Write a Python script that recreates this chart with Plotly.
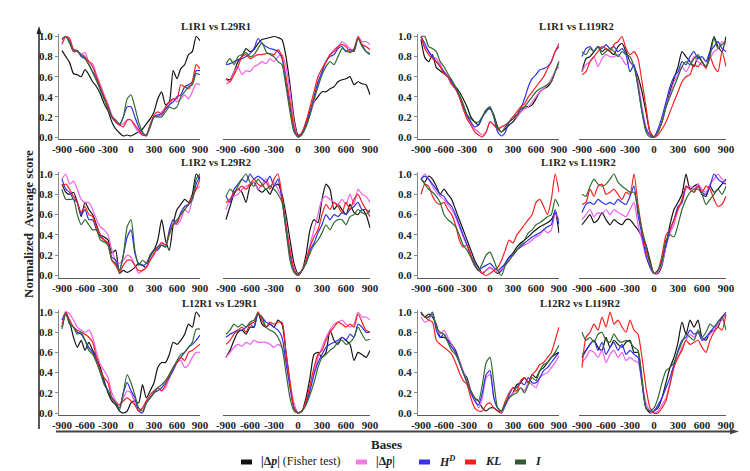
import plotly.graph_objects as go

W, H = 750, 471

bases = [-900, -850, -800, -750, -700, -650, -600, -550, -500,
         -450, -400, -350, -300, -250, -200, -150, -100, -50,
         0,
         50, 100, 150, 200, 250, 300, 350, 400, 450,
         500, 550, 600, 650, 700, 750, 800, 850, 900]

x_ticks = [-900, -600, -300, 0, 300, 600, 900]
y_ticks = [0.0, 0.2, 0.4, 0.6, 0.8, 1.0]

series_names = ["|Δp| (Fisher test)", "|Δp|", "H^D", "KL", "I"]
titles = ["L1R1 vs L29R1", "L1R1 vs L119R2",
          "L1R2 vs L29R2", "L1R2 vs L119R2",
          "L12R1 vs L29R1", "L12R2 vs L119R2"]

# ---------------- L1R1 vs L29R1 (left) ----------------
a1_black = [0.86, 0.80, 0.74, 0.63, 0.62, 0.60, 0.67, 0.62, 0.55,
            0.50, 0.43, 0.33, 0.26, 0.15, 0.08, 0.04, 0.01, 0.02,
            0.01,
            0.03, 0.05, 0.08, 0.13, 0.18, 0.25, 0.38, 0.45, 0.32,
            0.35, 0.66, 0.58, 0.68, 0.72, 0.82, 0.85, 1.00, 0.96]
a1_pink = [0.92, 1.00, 0.95, 0.85, 0.85, 0.82, 0.84, 0.75, 0.73,
           0.62, 0.52, 0.42, 0.33, 0.22, 0.16, 0.13, 0.13, 0.17,
           0.17,
           0.10, 0.05, 0.02, 0.01, 0.10, 0.20, 0.20, 0.25, 0.28,
           0.32, 0.38, 0.35, 0.38, 0.42, 0.38, 0.45, 0.53, 0.52]
a1_blue = [0.97, 1.00, 0.95, 0.87, 0.86, 0.80, 0.78, 0.72, 0.65,
           0.58, 0.48, 0.38, 0.30, 0.20, 0.15, 0.12, 0.20, 0.30,
           0.30,
           0.20, 0.10, 0.04, 0.02, 0.12, 0.20, 0.22, 0.22, 0.28,
           0.32, 0.35, 0.40, 0.42, 0.50, 0.52, 0.55, 0.66, 0.66]
a1_red = [0.93, 1.00, 0.98, 0.87, 0.85, 0.82, 0.80, 0.75, 0.70,
          0.60, 0.50, 0.40, 0.30, 0.20, 0.15, 0.12, 0.10, 0.17,
          0.17,
          0.12, 0.07, 0.02, 0.02, 0.12, 0.22, 0.25, 0.23, 0.30,
          0.35, 0.38, 0.38, 0.52, 0.50, 0.48, 0.55, 0.72, 0.68]
a1_green = [0.98, 1.00, 0.93, 0.85, 0.86, 0.82, 0.78, 0.72, 0.64,
            0.56, 0.47, 0.38, 0.28, 0.20, 0.17, 0.13, 0.20, 0.38,
            0.42,
            0.30, 0.15, 0.05, 0.01, 0.10, 0.20, 0.20, 0.20, 0.25,
            0.30, 0.28, 0.30, 0.40, 0.45, 0.50, 0.52, 0.63, 0.62]

# ---------------- L1R1 vs L29R1 (right) ----------------
a2_black = [0.58, 0.57, 0.65, 0.75, 0.80, 0.88, 0.85, 0.87, 0.93,
            0.97, 0.98, 0.99, 1.00, 0.99, 0.97, 0.80, 0.52, 0.19,
            0.02,
            0.03, 0.15, 0.25, 0.35, 0.40, 0.45, 0.45, 0.48, 0.50,
            0.55, 0.57, 0.58, 0.60, 0.52, 0.55, 0.53, 0.52, 0.42]
a2_pink = [0.53, 0.55, 0.65, 0.70, 0.62, 0.66, 0.65, 0.70, 0.72,
           0.75, 0.73, 0.78, 0.75, 0.80, 0.82, 0.70, 0.45, 0.15,
           0.00,
           0.02, 0.12, 0.22, 0.35, 0.52, 0.65, 0.75, 0.82, 0.87,
           0.90, 0.95, 0.92, 0.88, 0.85, 1.00, 0.95, 0.95, 0.92]
a2_blue = [0.72, 0.73, 0.75, 0.77, 0.78, 0.80, 0.83, 0.88, 0.98,
           0.93, 0.90, 0.88, 0.87, 0.85, 0.78, 0.55, 0.30, 0.08,
           0.00,
           0.04, 0.12, 0.25, 0.40, 0.55, 0.65, 0.75, 0.80, 0.82,
           0.88, 0.90, 0.85, 0.87, 0.85, 0.98, 0.92, 0.85, 0.82]
a2_red = [0.58, 0.55, 0.62, 0.70, 0.80, 0.82, 0.78, 0.80, 0.82,
          0.82, 0.83, 0.83, 0.82, 0.87, 0.80, 0.60, 0.35, 0.10,
          0.00,
          0.05, 0.15, 0.30, 0.45, 0.60, 0.68, 0.75, 0.82, 0.85,
          0.90, 0.92, 0.90, 0.85, 0.88, 1.00, 0.92, 0.90, 0.87]
a2_green = [0.73, 0.78, 0.72, 0.80, 0.82, 0.84, 0.80, 0.82, 0.88,
            0.94, 0.85, 0.82, 0.80, 0.75, 0.72, 0.50, 0.25, 0.05,
            0.00,
            0.03, 0.10, 0.22, 0.38, 0.50, 0.62, 0.70, 0.75, 0.72,
            0.80, 0.88, 0.86, 0.84, 0.87, 0.98, 0.90, 0.85, 0.83]

# ---------------- L1R1 vs L119R2 (left) ----------------
b1_black = [0.97, 0.79, 0.75, 0.82, 0.69, 0.66, 0.63, 0.60, 0.55,
            0.50, 0.45, 0.38, 0.30, 0.20, 0.15, 0.12, 0.20, 0.27,
            0.28,
            0.22, 0.10, 0.05, 0.08, 0.12, 0.15, 0.20, 0.25, 0.30,
            0.30, 0.32, 0.38, 0.45, 0.48, 0.50, 0.55, 0.65, 0.75]
b1_pink = [1.00, 0.90, 0.85, 0.80, 0.78, 0.72, 0.65, 0.60, 0.53,
           0.48, 0.40, 0.30, 0.20, 0.13, 0.08, 0.05, 0.02, 0.05,
           0.15,
           0.12, 0.08, 0.10, 0.12, 0.15, 0.18, 0.20, 0.25, 0.28,
           0.30, 0.35, 0.40, 0.45, 0.48, 0.52, 0.58, 0.65, 0.70]
b1_blue = [1.00, 0.93, 0.85, 0.80, 0.75, 0.70, 0.65, 0.60, 0.55,
           0.48, 0.40, 0.30, 0.22, 0.15, 0.10, 0.12, 0.20, 0.25,
           0.30,
           0.20, 0.05, 0.01, 0.05, 0.15, 0.20, 0.22, 0.28, 0.38,
           0.50, 0.58, 0.62, 0.67, 0.68, 0.70, 0.75, 0.85, 0.90]
b1_red = [1.00, 0.88, 0.82, 0.78, 0.75, 0.70, 0.63, 0.60, 0.52,
          0.48, 0.40, 0.28, 0.18, 0.12, 0.05, 0.02, 0.00, 0.05,
          0.15,
          0.12, 0.08, 0.10, 0.12, 0.15, 0.20, 0.25, 0.30, 0.33,
          0.40, 0.45, 0.50, 0.55, 0.60, 0.68, 0.75, 0.85, 0.93]
b1_green = [1.00, 1.00, 0.90, 0.88, 0.85, 0.75, 0.70, 0.63, 0.57,
            0.50, 0.42, 0.33, 0.22, 0.18, 0.15, 0.15, 0.20, 0.27,
            0.30,
            0.20, 0.08, 0.05, 0.10, 0.15, 0.18, 0.22, 0.28, 0.30,
            0.35, 0.40, 0.45, 0.48, 0.50, 0.52, 0.55, 0.65, 0.75]

# ---------------- L1R1 vs L119R2 (right) ----------------
b2_black = [0.65, 0.78, 0.80, 0.85, 0.90, 0.85, 0.88, 0.85, 0.82,
            0.90, 0.93, 0.85, 0.75, 0.70, 0.60, 0.45, 0.25, 0.05,
            0.00,
            0.05, 0.15, 0.30, 0.45, 0.58, 0.70, 0.85, 0.80, 0.75,
            0.70, 0.80, 0.75, 0.70, 0.85, 1.00, 0.90, 0.85, 1.00]
b2_pink = [0.65, 0.72, 0.75, 0.80, 0.70, 0.78, 0.82, 0.80, 0.80,
           0.82, 0.78, 0.72, 0.75, 0.70, 0.55, 0.30, 0.10, 0.02,
           0.00,
           0.05, 0.15, 0.30, 0.42, 0.55, 0.62, 0.70, 0.65, 0.72,
           0.80, 0.75, 0.72, 0.70, 0.78, 0.85, 0.88, 0.95, 0.92]
b2_blue = [0.80, 0.88, 0.90, 0.85, 0.90, 0.88, 0.92, 0.88, 0.90,
           0.85, 0.88, 0.82, 0.65, 0.72, 0.50, 0.25, 0.08, 0.02,
           0.00,
           0.08, 0.20, 0.35, 0.50, 0.60, 0.65, 0.75, 0.72, 0.80,
           0.85, 0.78, 0.80, 0.75, 0.85, 0.90, 0.95, 0.88, 0.85]
b2_red = [0.62, 0.65, 0.75, 0.80, 0.85, 0.90, 0.88, 0.85, 0.92,
          0.95, 1.00, 0.88, 0.82, 0.85, 0.78, 0.55, 0.30, 0.05,
          0.00,
          0.02, 0.08, 0.15, 0.25, 0.35, 0.45, 0.55, 0.60, 0.62,
          0.72, 0.70, 0.75, 0.68, 0.80, 0.70, 0.65, 0.85, 0.70]
b2_green = [0.85, 0.82, 0.88, 0.85, 0.90, 0.82, 0.85, 0.88, 0.85,
            0.80, 0.85, 0.82, 0.80, 0.70, 0.50, 0.25, 0.05, 0.00,
            0.00,
            0.05, 0.15, 0.30, 0.40, 0.50, 0.60, 0.70, 0.75, 0.72,
            0.78, 0.82, 0.75, 0.70, 0.80, 0.98, 0.88, 0.92, 0.95]

# ---------------- L1R2 vs L29R2 (left) ----------------
c1_black = [0.90, 0.82, 0.80, 0.82, 0.72, 0.58, 0.72, 0.65, 0.60,
            0.50, 0.40, 0.38, 0.35, 0.22, 0.25, 0.02, 0.05, 0.03,
            0.05,
            0.08, 0.12, 0.10, 0.08, 0.20, 0.25, 0.35, 0.55, 0.35,
            0.25, 0.50, 0.65, 0.70, 0.75, 0.72, 0.80, 1.00, 0.95]
c1_pink = [0.95, 1.00, 0.90, 0.93, 0.85, 0.75, 0.72, 0.72, 0.65,
           0.55, 0.48, 0.45, 0.40, 0.25, 0.15, 0.12, 0.15, 0.20,
           0.18,
           0.10, 0.02, 0.05, 0.08, 0.15, 0.20, 0.28, 0.33, 0.30,
           0.42, 0.52, 0.50, 0.55, 0.65, 0.62, 0.75, 0.85, 0.88]
c1_blue = [0.95, 0.85, 0.82, 0.75, 0.72, 0.60, 0.65, 0.55, 0.55,
           0.45, 0.38, 0.35, 0.30, 0.18, 0.15, 0.05, 0.20, 0.38,
           0.45,
           0.22, 0.12, 0.10, 0.12, 0.20, 0.25, 0.25, 0.30, 0.28,
           0.45, 0.55, 0.52, 0.62, 0.68, 0.70, 0.75, 0.90, 0.98]
c1_red = [0.88, 0.90, 0.85, 0.78, 0.72, 0.62, 0.68, 0.60, 0.58,
          0.48, 0.40, 0.35, 0.32, 0.15, 0.10, 0.03, 0.10, 0.15,
          0.15,
          0.10, 0.05, 0.05, 0.08, 0.15, 0.22, 0.28, 0.32, 0.30,
          0.40, 0.50, 0.52, 0.60, 0.65, 0.70, 0.78, 0.85, 0.95]
c1_green = [0.85, 0.75, 0.75, 0.75, 0.60, 0.50, 0.55, 0.50, 0.45,
            0.45, 0.35, 0.33, 0.30, 0.15, 0.12, 0.05, 0.20, 0.48,
            0.55,
            0.25, 0.10, 0.15, 0.12, 0.18, 0.25, 0.28, 0.30, 0.28,
            0.42, 0.50, 0.55, 0.60, 0.65, 0.70, 0.75, 0.95, 1.00]

# ---------------- L1R2 vs L29R2 (right) ----------------
c2_black = [0.55, 0.68, 0.80, 0.85, 0.82, 0.72, 0.88, 0.92, 0.85,
            0.82, 0.85, 0.80, 0.88, 0.90, 0.80, 0.60, 0.35, 0.12,
            0.02,
            0.05, 0.20, 0.45, 0.55, 0.52, 0.75, 0.90, 0.85, 0.65,
            0.70, 0.65, 0.60, 0.70, 0.62, 0.60, 0.65, 0.60, 0.47]
c2_pink = [0.65, 0.75, 0.78, 0.80, 0.85, 0.88, 0.90, 0.92, 0.85,
           0.90, 0.95, 0.88, 0.92, 0.85, 0.75, 0.50, 0.25, 0.08,
           0.00,
           0.05, 0.15, 0.30, 0.45, 0.60, 0.75, 0.78, 0.75, 0.72,
           0.70, 0.75, 0.70, 0.80, 0.70, 0.85, 0.80, 0.78, 0.72]
c2_blue = [0.78, 0.72, 0.85, 0.90, 0.95, 0.92, 1.00, 0.95, 0.98,
           0.95, 0.92, 0.98, 0.88, 0.95, 0.75, 0.45, 0.20, 0.05,
           0.00,
           0.05, 0.12, 0.25, 0.32, 0.42, 0.50, 0.60, 0.55, 0.60,
           0.58, 0.62, 0.60, 0.65, 0.68, 0.72, 0.65, 0.65, 0.62]
c2_red = [0.72, 0.75, 0.82, 0.85, 0.88, 0.85, 0.90, 0.95, 0.90,
          0.88, 0.92, 0.85, 0.95, 1.00, 0.78, 0.50, 0.25, 0.05,
          0.00,
          0.05, 0.15, 0.28, 0.38, 0.45, 0.60, 0.70, 0.65, 0.72,
          0.68, 0.62, 0.72, 0.65, 0.75, 0.80, 0.72, 0.65, 0.58]
c2_green = [0.78, 0.85, 0.82, 0.88, 0.95, 1.00, 0.92, 0.88, 0.95,
            0.90, 0.85, 0.88, 0.85, 0.80, 0.72, 0.45, 0.15, 0.03,
            0.00,
            0.05, 0.12, 0.22, 0.30, 0.35, 0.42, 0.50, 0.45, 0.52,
            0.55, 0.55, 0.50, 0.58, 0.60, 0.65, 0.62, 0.60, 0.65]

# ---------------- L1R2 vs L119R2 (left) ----------------
d1_black = [0.95, 0.92, 0.98, 0.95, 0.88, 0.80, 0.85, 0.80, 0.75,
            0.65, 0.55, 0.45, 0.35, 0.25, 0.15, 0.08, 0.02, 0.05,
            0.08,
            0.05, 0.02, 0.05, 0.12, 0.18, 0.22, 0.28, 0.32, 0.35,
            0.38, 0.42, 0.45, 0.48, 0.50, 0.52, 0.55, 0.62, 0.42]
d1_pink = [0.95, 1.00, 0.95, 0.88, 0.82, 0.78, 0.75, 0.70, 0.65,
           0.58, 0.48, 0.38, 0.30, 0.18, 0.10, 0.05, 0.03, 0.05,
           0.08,
           0.05, 0.03, 0.06, 0.10, 0.15, 0.20, 0.25, 0.28, 0.30,
           0.32, 0.35, 0.38, 0.40, 0.45, 0.42, 0.45, 0.60, 0.55]
d1_blue = [0.95, 0.98, 0.95, 0.90, 0.85, 0.80, 0.78, 0.72, 0.68,
           0.60, 0.50, 0.40, 0.30, 0.20, 0.12, 0.05, 0.08, 0.10,
           0.12,
           0.08, 0.05, 0.08, 0.12, 0.18, 0.20, 0.25, 0.28, 0.32,
           0.35, 0.38, 0.40, 0.42, 0.45, 0.48, 0.50, 0.65, 0.50]
d1_red = [0.80, 0.90, 0.88, 0.78, 0.72, 0.70, 0.72, 0.65, 0.60,
          0.50, 0.35, 0.28, 0.30, 0.20, 0.10, 0.05, 0.02, 0.00,
          0.02,
          0.05, 0.08, 0.15, 0.25, 0.35, 0.32, 0.40, 0.45, 0.50,
          0.55, 0.60, 0.72, 0.75, 0.68, 0.60, 0.75, 1.00, 0.82]
d1_green = [0.95, 0.90, 0.85, 0.82, 0.78, 0.72, 0.60, 0.55, 0.52,
            0.48, 0.40, 0.30, 0.25, 0.18, 0.10, 0.05, 0.12, 0.20,
            0.23,
            0.15, 0.05, 0.00, 0.10, 0.15, 0.20, 0.25, 0.30, 0.35,
            0.42, 0.45, 0.50, 0.52, 0.55, 0.58, 0.60, 0.75, 0.68]

# ---------------- L1R2 vs L119R2 (right) ----------------
d2_black = [0.50, 0.55, 0.60, 0.52, 0.55, 0.62, 0.55, 0.50, 0.55,
            0.52, 0.50, 0.55, 0.55, 0.50, 0.45, 0.38, 0.30, 0.15,
            0.02,
            0.02, 0.10, 0.30, 0.50, 0.65, 0.72, 0.80, 1.00, 0.85,
            0.88, 0.90, 0.80, 0.78, 0.88, 0.82, 0.85, 0.90, 0.95]
d2_pink = [0.55, 0.60, 0.65, 0.58, 0.62, 0.60, 0.65, 0.60, 0.65,
           0.62, 0.60, 0.58, 0.65, 0.72, 0.50, 0.35, 0.18, 0.10,
           0.02,
           0.03, 0.12, 0.28, 0.42, 0.50, 0.65, 0.72, 0.85, 0.88,
           0.85, 0.90, 0.85, 0.82, 0.90, 0.95, 1.00, 0.95, 0.92]
d2_blue = [0.62, 0.70, 0.72, 0.70, 0.75, 0.72, 0.70, 0.72, 0.70,
           0.75, 0.72, 0.70, 0.78, 0.88, 0.60, 0.40, 0.20, 0.08,
           0.02,
           0.05, 0.15, 0.30, 0.45, 0.55, 0.68, 0.72, 0.88, 0.85,
           0.82, 0.88, 0.82, 0.80, 0.88, 1.00, 0.95, 0.92, 0.90]
d2_red = [0.70, 0.72, 0.85, 0.78, 0.88, 0.90, 0.80, 0.82, 0.85,
          0.80, 0.75, 0.82, 0.80, 1.00, 0.70, 0.45, 0.25, 0.12,
          0.02,
          0.05, 0.20, 0.40, 0.45, 0.55, 0.65, 0.75, 0.88, 0.85,
          0.82, 0.88, 0.82, 0.88, 0.85, 0.75, 0.68, 0.70, 0.78]
d2_green = [0.80, 0.78, 0.88, 0.95, 0.90, 0.88, 0.90, 0.95, 1.00,
            0.92, 0.88, 0.85, 0.82, 0.82, 0.65, 0.45, 0.30, 0.12,
            0.02,
            0.05, 0.15, 0.35, 0.40, 0.38, 0.50, 0.65, 0.75, 0.82,
            0.85, 0.85, 0.80, 0.70, 0.75, 0.80, 0.85, 0.80, 0.88]

# ---------------- L12R1 vs L29R1 (left) ----------------
e1_black = [0.85, 0.98, 0.90, 0.75, 0.65, 0.72, 0.62, 0.70, 0.62,
            0.55, 0.45, 0.32, 0.20, 0.12, 0.08, 0.02, 0.00, 0.02,
            0.10,
            0.12, 0.10, 0.28, 0.15, 0.22, 0.30, 0.45, 0.50, 0.50,
            0.58, 0.70, 0.68, 0.72, 0.78, 0.88, 0.85, 1.00, 0.95]
e1_pink = [0.88, 1.00, 0.98, 0.92, 0.85, 0.82, 0.80, 0.82, 0.75,
           0.60, 0.48, 0.42, 0.35, 0.20, 0.12, 0.08, 0.15, 0.22,
           0.20,
           0.10, 0.02, 0.05, 0.12, 0.15, 0.20, 0.25, 0.22, 0.25,
           0.35, 0.45, 0.50, 0.52, 0.45, 0.48, 0.55, 0.60, 0.60]
e1_blue = [0.92, 1.00, 0.88, 0.85, 0.80, 0.78, 0.72, 0.65, 0.60,
           0.52, 0.40, 0.30, 0.22, 0.15, 0.10, 0.05, 0.20, 0.30,
           0.22,
           0.15, 0.02, 0.00, 0.10, 0.15, 0.20, 0.22, 0.25, 0.30,
           0.35, 0.42, 0.50, 0.55, 0.60, 0.65, 0.68, 0.72, 0.77]
e1_red = [0.85, 1.00, 0.92, 0.85, 0.82, 0.80, 0.78, 0.75, 0.70,
          0.55, 0.42, 0.35, 0.30, 0.15, 0.10, 0.08, 0.12, 0.15,
          0.12,
          0.08, 0.02, 0.05, 0.12, 0.18, 0.22, 0.25, 0.22, 0.28,
          0.38, 0.45, 0.50, 0.55, 0.52, 0.60, 0.62, 0.65, 0.68]
e1_green = [0.83, 0.98, 0.88, 0.85, 0.78, 0.80, 0.72, 0.62, 0.58,
            0.50, 0.40, 0.28, 0.22, 0.15, 0.10, 0.03, 0.20, 0.38,
            0.30,
            0.18, 0.05, 0.02, 0.10, 0.15, 0.20, 0.25, 0.28, 0.32,
            0.38, 0.45, 0.52, 0.58, 0.60, 0.65, 0.70, 0.83, 0.83]

# ---------------- L12R1 vs L29R1 (right) ----------------
e2_black = [0.55, 0.62, 0.72, 0.80, 0.82, 0.78, 0.85, 0.85, 1.00,
            0.88, 0.85, 0.88, 0.85, 0.92, 0.88, 0.60, 0.30, 0.05,
            0.00,
            0.02, 0.15, 0.35, 0.58, 0.60, 0.55, 0.60, 0.82, 0.72,
            0.68, 0.75, 0.72, 0.68, 0.52, 0.60, 0.58, 0.55, 0.62]
e2_pink = [0.55, 0.60, 0.65, 0.68, 0.66, 0.70, 0.68, 0.72, 0.70,
           0.70, 0.70, 0.68, 0.65, 0.68, 0.65, 0.50, 0.30, 0.10,
           0.00,
           0.02, 0.10, 0.25, 0.40, 0.55, 0.65, 0.75, 0.82, 0.88,
           0.90, 0.92, 0.88, 0.85, 0.88, 1.00, 0.95, 0.95, 0.92]
e2_blue = [0.75, 0.78, 0.80, 0.82, 0.82, 0.85, 0.88, 0.85, 0.98,
           0.95, 0.90, 0.88, 0.85, 0.82, 0.75, 0.50, 0.25, 0.05,
           0.00,
           0.02, 0.10, 0.22, 0.38, 0.50, 0.58, 0.65, 0.68, 0.70,
           0.72, 0.75, 0.72, 0.78, 0.75, 0.88, 0.85, 0.80, 0.80]
e2_red = [0.68, 0.72, 0.78, 0.82, 0.85, 0.80, 0.88, 0.90, 1.00,
          0.92, 0.85, 0.90, 0.88, 0.90, 0.90, 0.60, 0.30, 0.05,
          0.00,
          0.02, 0.12, 0.28, 0.45, 0.58, 0.62, 0.72, 0.80, 0.85,
          0.90, 0.88, 0.85, 0.88, 0.85, 0.98, 0.90, 0.82, 0.80]
e2_green = [0.78, 0.82, 0.88, 0.85, 0.88, 0.85, 0.90, 0.92, 0.98,
            0.95, 0.85, 0.82, 0.80, 0.75, 0.65, 0.40, 0.15, 0.02,
            0.00,
            0.02, 0.08, 0.18, 0.30, 0.45, 0.55, 0.58, 0.62, 0.65,
            0.70, 0.72, 0.68, 0.70, 0.75, 0.85, 0.78, 0.72, 0.73]

# ---------------- L12R2 vs L119R2 (left) ----------------
f1_black = [1.00, 0.95, 0.98, 0.95, 0.88, 0.75, 0.75, 0.72, 0.68,
            0.62, 0.52, 0.40, 0.35, 0.22, 0.15, 0.12, 0.05, 0.02,
            0.05,
            0.05, 0.02, 0.00, 0.08, 0.15, 0.20, 0.28, 0.30, 0.35,
            0.30, 0.38, 0.35, 0.42, 0.45, 0.50, 0.55, 0.58, 0.60]
f1_pink = [0.95, 0.90, 0.92, 0.98, 0.85, 0.78, 0.82, 0.75, 0.68,
           0.60, 0.52, 0.42, 0.32, 0.22, 0.15, 0.05, 0.15, 0.35,
           0.38,
           0.15, 0.05, 0.00, 0.08, 0.15, 0.20, 0.22, 0.25, 0.22,
           0.30, 0.28, 0.25, 0.35, 0.38, 0.40, 0.45, 0.50, 0.57]
f1_blue = [1.00, 0.95, 0.95, 0.98, 0.82, 0.75, 0.78, 0.72, 0.65,
           0.60, 0.50, 0.40, 0.30, 0.20, 0.12, 0.08, 0.20, 0.38,
           0.42,
           0.15, 0.05, 0.02, 0.08, 0.18, 0.25, 0.25, 0.30, 0.28,
           0.35, 0.30, 0.30, 0.35, 0.42, 0.45, 0.50, 0.55, 0.60]
f1_red = [0.98, 0.95, 0.92, 0.90, 0.72, 0.68, 0.65, 0.62, 0.58,
          0.50, 0.40, 0.32, 0.28, 0.15, 0.05, 0.02, 0.02, 0.08,
          0.10,
          0.05, 0.02, 0.02, 0.12, 0.20, 0.25, 0.22, 0.32, 0.35,
          0.30, 0.38, 0.42, 0.48, 0.50, 0.55, 0.60, 0.72, 0.85]
f1_green = [1.00, 0.95, 0.95, 1.00, 0.85, 0.80, 0.78, 0.70, 0.62,
            0.58, 0.50, 0.40, 0.30, 0.22, 0.15, 0.12, 0.28, 0.50,
            0.55,
            0.30, 0.05, 0.02, 0.10, 0.15, 0.18, 0.20, 0.25, 0.20,
            0.28, 0.35, 0.32, 0.42, 0.48, 0.50, 0.55, 0.60, 0.67]

# ---------------- L12R2 vs L119R2 (right) ----------------
f2_black = [0.55, 0.62, 0.68, 0.72, 0.65, 0.62, 0.75, 0.65, 0.72,
            0.68, 0.65, 0.70, 0.72, 0.60, 0.60, 0.30, 0.05, 0.00,
            0.02,
            0.05, 0.15, 0.30, 0.45, 0.55, 0.70, 0.90, 0.78, 0.92,
            0.85, 0.92, 0.75, 0.72, 0.80, 0.82, 0.85, 0.95, 0.98]
f2_pink = [0.50, 0.55, 0.62, 0.60, 0.55, 0.62, 0.50, 0.58, 0.62,
           0.55, 0.60, 0.52, 0.55, 0.52, 0.50, 0.30, 0.10, 0.02,
           0.00,
           0.02, 0.08, 0.15, 0.30, 0.48, 0.55, 0.65, 0.72, 0.78,
           0.75, 0.80, 0.72, 0.75, 0.78, 0.82, 0.88, 0.92, 0.98]
f2_blue = [0.58, 0.62, 0.68, 0.72, 0.62, 0.70, 0.58, 0.65, 0.70,
           0.62, 0.68, 0.58, 0.62, 0.58, 0.55, 0.30, 0.05, 0.02,
           0.02,
           0.08, 0.15, 0.25, 0.35, 0.48, 0.62, 0.72, 0.75, 0.82,
           0.78, 0.80, 0.72, 0.75, 0.80, 0.85, 0.90, 0.95, 1.00]
f2_red = [0.45, 0.75, 0.80, 0.88, 0.82, 0.95, 0.85, 1.00, 0.88,
          0.92, 0.85, 0.80, 0.92, 0.82, 0.78, 0.55, 0.25, 0.05,
          0.00,
          0.00, 0.05, 0.12, 0.28, 0.45, 0.55, 0.62, 0.72, 0.68,
          0.70, 0.72, 0.65, 0.60, 0.72, 0.80, 0.85, 0.82, 0.98]
f2_green = [0.80, 0.72, 0.75, 0.70, 0.78, 0.80, 0.72, 0.70, 0.78,
            0.72, 0.70, 0.72, 0.70, 0.65, 0.62, 0.35, 0.05, 0.02,
            0.05,
            0.15, 0.30, 0.42, 0.45, 0.50, 0.60, 0.70, 0.78, 0.75,
            0.72, 0.82, 0.75, 0.80, 0.88, 0.85, 0.90, 0.95, 0.82]

# panel list: (column, row, [black, pink, blue, red, green])
panels = [
    (0, 0, [a1_black, a1_pink, a1_blue, a1_red, a1_green]),
    (1, 0, [a2_black, a2_pink, a2_blue, a2_red, a2_green]),
    (2, 0, [b1_black, b1_pink, b1_blue, b1_red, b1_green]),
    (3, 0, [b2_black, b2_pink, b2_blue, b2_red, b2_green]),
    (0, 1, [c1_black, c1_pink, c1_blue, c1_red, c1_green]),
    (1, 1, [c2_black, c2_pink, c2_blue, c2_red, c2_green]),
    (2, 1, [d1_black, d1_pink, d1_blue, d1_red, d1_green]),
    (3, 1, [d2_black, d2_pink, d2_blue, d2_red, d2_green]),
    (0, 2, [e1_black, e1_pink, e1_blue, e1_red, e1_green]),
    (1, 2, [e2_black, e2_pink, e2_blue, e2_red, e2_green]),
    (2, 2, [f1_black, f1_pink, f1_blue, f1_red, f1_green]),
    (3, 2, [f2_black, f2_pink, f2_blue, f2_red, f2_green]),
]

for _, _, group in panels:
    for arr in group:
        assert len(arr) == len(bases), len(arr)

colors = ["#141414", "#f25cf0", "#2f2ff0", "#f52020", "#2f6b2f"]
SERIF = "Liberation Serif"

# pixel placement of x=-900..900 and y=1..0 for each column / row
col_px = [(54, 192), (218, 362), (413, 551), (574, 718)]
row_px = [(28.5, 129), (166, 267.5), (304, 405)]
XR = [-940, 905]
YR = [-0.02, 1.02]


def xdom(p0, p1):
    ppu = (p1 - p0) / 1800.0
    left = p0 + (XR[0] + 900) * ppu
    right = p1 + (XR[1] - 900) * ppu
    return [left / W, right / W]


def ydom(ptop, pbot):
    ppu = pbot - ptop
    top = ptop - (YR[1] - 1.0) * ppu
    bot = pbot - YR[0] * ppu
    return [1 - bot / H, 1 - top / H]


def px(x):
    return x / W


def py(y):
    return 1 - y / H


fig = go.Figure()
layout_axes = {}
for i, (c, r, group) in enumerate(panels):
    n = i + 1
    xs = "" if n == 1 else str(n)
    for k, ys in enumerate(group):
        fig.add_trace(go.Scatter(
            x=bases, y=ys, mode="lines",
            line=dict(color=colors[k], width=1.2, shape="spline", smoothing=0.6),
            xaxis="x" + xs, yaxis="y" + xs, showlegend=False,
            name=series_names[k], hoverinfo="skip"))
    left_panel = c in (0, 2)
    layout_axes["xaxis" + xs] = dict(
        domain=xdom(*col_px[c]), range=XR, anchor="y" + xs,
        tickvals=x_ticks, ticktext=[str(v) for v in x_ticks],
        tickangle=0, automargin=False,
        showgrid=False, zeroline=False, showline=True,
        linecolor="#5a5a5a", linewidth=1.2, ticks="",
        tickfont=dict(family=SERIF, size=11, color="#222", weight="bold"),
        fixedrange=True)
    layout_axes["yaxis" + xs] = dict(
        domain=ydom(*row_px[r]), range=YR, anchor="x" + xs,
        tickvals=y_ticks, ticktext=["%.1f" % v for v in y_ticks],
        showticklabels=left_panel, showline=left_panel,
        ticks="outside" if left_panel else "", ticklen=3, tickcolor="#888",
        linecolor="#888", linewidth=1, automargin=False,
        showgrid=False, zeroline=False,
        tickfont=dict(family=SERIF, size=11, color="#222", weight="bold"),
        fixedrange=True)

fig.update_layout(**layout_axes)

title_pos = [(208, 19), (568, 19), (208, 155), (570, 155), (211, 295), (572, 295)]
for t, (tx, ty) in zip(titles, title_pos):
    fig.add_annotation(x=px(tx), y=py(ty), xref="paper", yref="paper",
                       text="<b>%s</b>" % t, showarrow=False,
                       xanchor="center", yanchor="middle",
                       font=dict(family=SERIF, size=10.5, color="#222"))

# axis-wide labels
fig.add_annotation(x=px(20), y=py(216), xref="paper", yref="paper",
                   text="<b>Normalized  Average score</b>", textangle=-90,
                   showarrow=False, xanchor="center", yanchor="middle",
                   font=dict(family=SERIF, size=13, color="#222"))
fig.add_annotation(x=px(378), y=py(436), xref="paper", yref="paper",
                   text="<b>Bases</b>", showarrow=False,
                   xanchor="center", yanchor="middle",
                   font=dict(family=SERIF, size=13, color="#222"))

# big arrows drawn as shapes (line + triangular head)
fig.add_shape(type="line", xref="paper", yref="paper",
              x0=px(31), x1=px(31), y0=py(421), y1=py(24),
              line=dict(color="#222", width=1.5))
fig.add_shape(type="path", xref="paper", yref="paper",
              path="M %f %f L %f %f L %f %f Z" % (px(28.5), py(26), px(31), py(18), px(33.5), py(26)),
              fillcolor="#222", line=dict(width=0))
fig.add_shape(type="line", xref="paper", yref="paper",
              x0=px(48), x1=px(724), y0=py(423.5), y1=py(423.5),
              line=dict(color="#444", width=1.8))
fig.add_shape(type="path", xref="paper", yref="paper",
              path="M %f %f L %f %f L %f %f Z" % (px(722), py(420.8), px(731), py(423.5), px(722), py(426.2)),
              fillcolor="#444", line=dict(width=0))

# legend (boxes + labels)
legend_labels = ["<b>|Δ<i>p</i>|</b> (Fisher test)", "<b>|Δ<i>p</i>|</b>",
                 "<b><i>H</i><sup><i>D</i></sup></b>", "<b><i>KL</i></b>",
                 "<b><i>I</i></b>"]
legend_box_x = [233, 348, 411, 457, 507]
legend_box_colors = ["#111111", "#f07ce0", "#3434e6", "#f51c1c", "#2f5a2f"]
for lx, lc, lt in zip(legend_box_x, legend_box_colors, legend_labels):
    fig.add_shape(type="rect", xref="paper", yref="paper",
                  x0=px(lx), x1=px(lx + 11), y0=py(456.5), y1=py(451.5),
                  fillcolor=lc, line=dict(width=0))
    fig.add_annotation(x=px(lx + 18), y=py(453), xref="paper", yref="paper",
                       text=lt, showarrow=False, xanchor="left", yanchor="middle",
                       font=dict(family=SERIF, size=12, color="#222"))

fig.update_layout(width=W, height=H, margin=dict(l=0, r=0, t=0, b=0),
                  paper_bgcolor="white", plot_bgcolor="white",
                  showlegend=False)

fig.write_html("out.html")
